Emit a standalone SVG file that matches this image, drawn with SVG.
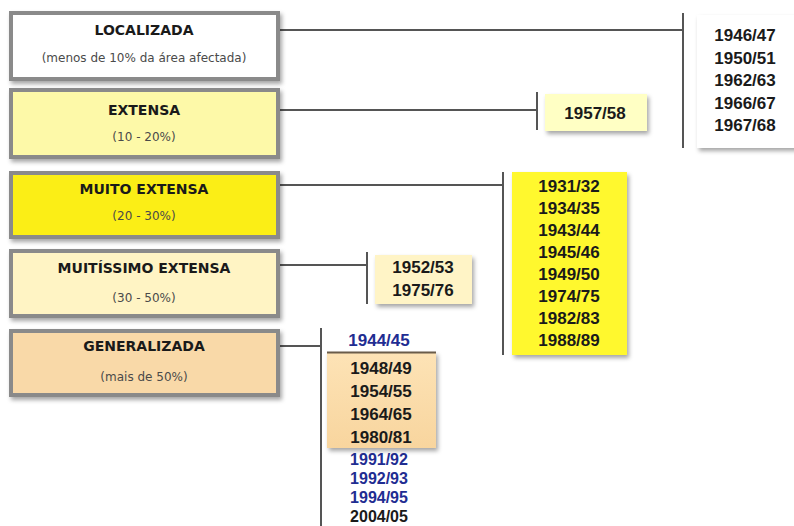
<svg xmlns="http://www.w3.org/2000/svg" width="794" height="526" viewBox="0 0 794 526">
<defs>
<filter id="sh" x="-20%" y="-20%" width="140%" height="140%">
<feDropShadow dx="2" dy="3" stdDeviation="2" flood-color="#000" flood-opacity="0.35"/>
</filter>
<linearGradient id="gOr" x1="0" y1="0" x2="0" y2="1">
<stop offset="0" stop-color="#FDE3B6"/>
<stop offset="1" stop-color="#F8D59E"/>
</linearGradient>
</defs>
<style>
.cat{stroke:#8a8a8a;stroke-width:4;filter:url(#sh)}
.t{font-family:"DejaVu Sans",Verdana,sans-serif;font-weight:bold;font-size:14px;fill:#1a1a1a;text-anchor:middle}
.s{font-family:"DejaVu Sans",Verdana,sans-serif;font-size:12px;fill:#4a4a4a;text-anchor:middle}
.y{font-family:"Liberation Sans",Arial,sans-serif;font-weight:bold;font-size:17px;fill:#1a1a1a;text-anchor:middle}
.sm{font-size:16px}
.b{fill:#1f2d92}
.yb{filter:url(#sh)}
.c{stroke:#555;stroke-width:2;fill:none}
</style>
<rect width="794" height="526" fill="#ffffff"/>

<g id="connectors">
<line class="c" x1="280" y1="30" x2="683" y2="30"/>
<line class="c" x1="683" y1="13" x2="683" y2="148"/>
<line class="c" x1="280" y1="110" x2="537" y2="110"/>
<line class="c" x1="537" y1="92" x2="537" y2="130"/>
<line class="c" x1="280" y1="185" x2="503" y2="185"/>
<line class="c" x1="503" y1="172" x2="503" y2="355"/>
<line class="c" x1="280" y1="265" x2="367" y2="265"/>
<line class="c" x1="367" y1="252" x2="367" y2="304"/>
<line class="c" x1="280" y1="346" x2="321" y2="346"/>
<line class="c" x1="321" y1="328" x2="321" y2="526"/>
</g>

<g id="localizada">
<rect class="cat" x="11" y="13" width="267" height="66" fill="#ffffff"/>
<text class="t" x="144" y="35">LOCALIZADA</text>
<text class="s" x="144" y="62">(menos de 10% da área afectada)</text>
</g>
<g id="extensa">
<rect class="cat" x="11" y="90" width="267" height="67" fill="#FDF9A8"/>
<text class="t" x="144" y="115">EXTENSA</text>
<text class="s" x="144" y="141">(10 - 20%)</text>
</g>
<g id="muito-extensa">
<rect class="cat" x="11" y="173" width="267" height="64" fill="#FBEE16"/>
<text class="t" x="144" y="194">MUITO EXTENSA</text>
<text class="s" x="144" y="220">(20 - 30%)</text>
</g>
<g id="muitissimo-extensa">
<rect class="cat" x="11" y="251" width="267" height="65" fill="#FFF4C4"/>
<text class="t" x="144" y="273">MUITÍSSIMO EXTENSA</text>
<text class="s" x="144" y="302">(30 - 50%)</text>
</g>
<g id="generalizada">
<rect class="cat" x="11" y="331" width="267" height="64" fill="#F9D9A8"/>
<text class="t" x="144" y="351">GENERALIZADA</text>
<text class="s" x="144" y="381">(mais de 50%)</text>
</g>

<g id="anos-localizada">
<rect class="yb" x="697" y="15" width="110" height="133" fill="#ffffff"/>
<text class="y" x="745" y="41">1946/47</text>
<text class="y" x="745" y="63.5">1950/51</text>
<text class="y" x="745" y="86">1962/63</text>
<text class="y" x="745" y="108.5">1966/67</text>
<text class="y" x="745" y="131">1967/68</text>
</g>

<g id="anos-extensa">
<rect class="yb" x="545" y="94" width="102" height="37" fill="#FFFFC4"/>
<text class="y" x="595" y="119">1957/58</text>
</g>

<g id="anos-muito-extensa">
<rect class="yb" x="512" y="172" width="115" height="183" fill="#FFF82E"/>
<text class="y" x="569" y="192">1931/32</text>
<text class="y" x="569" y="214">1934/35</text>
<text class="y" x="569" y="236">1943/44</text>
<text class="y" x="569" y="258">1945/46</text>
<text class="y" x="569" y="280">1949/50</text>
<text class="y" x="569" y="302">1974/75</text>
<text class="y" x="569" y="324">1982/83</text>
<text class="y" x="569" y="346">1988/89</text>
</g>

<g id="anos-muitissimo-extensa">
<rect class="yb" x="375" y="255" width="97" height="49" fill="#FFF4C6"/>
<text class="y" x="423" y="273">1952/53</text>
<text class="y" x="423" y="296">1975/76</text>
</g>

<g id="anos-generalizada">
<text class="y b" x="379" y="346">1944/45</text>
<text class="y sm b" x="379" y="465">1991/92</text>
<text class="y sm b" x="379" y="484">1992/93</text>
<text class="y sm b" x="379" y="503">1994/95</text>
<text class="y sm" x="379" y="522">2004/05</text>
<rect class="yb" x="327" y="352" width="109" height="96" fill="url(#gOr)"/>
<line x1="327" y1="352.5" x2="436" y2="352.5" stroke="#6a5c4a" stroke-width="2"/>
<text class="y" x="381" y="374">1948/49</text>
<text class="y" x="381" y="397">1954/55</text>
<text class="y" x="381" y="420">1964/65</text>
<text class="y" x="381" y="443">1980/81</text>
</g>
</svg>
